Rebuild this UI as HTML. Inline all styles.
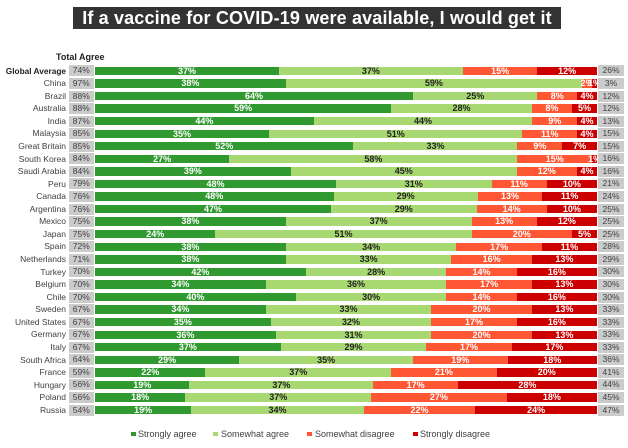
<!DOCTYPE html>
<html><head><meta charset="utf-8">
<style>
*{margin:0;padding:0;box-sizing:border-box}
body{width:628px;height:448px;background:#fff;position:relative;overflow:hidden;font-family:"Liberation Sans",Arial,sans-serif;color:#404040}
.title{position:absolute;left:73px;top:7px;width:488px;height:22px;background:#333;color:#fff;font-weight:bold;font-size:18px;line-height:22px;text-align:center;letter-spacing:0.15px;white-space:nowrap}
.ta{position:absolute;left:56px;top:51.4px;font-size:9px;line-height:12px;font-weight:bold;color:#222;white-space:nowrap}
.rows{position:absolute;left:0;top:64.615px;width:628px}
.r{position:relative;height:12.57px;width:628px}
.l{position:absolute;left:0;width:66px;top:0;height:12.57px;line-height:13.6px;font-size:8.5px;text-align:right;white-space:nowrap;color:#404040}
.l.bd{font-weight:bold;color:#222;font-size:8.3px}
.t,.n{position:absolute;top:0.8px;height:11px;width:24.5px;background:#cbcbcb;font-size:8.5px;line-height:11px;text-align:center;color:#404040;white-space:nowrap}
.t{left:69px}
.n{left:598px;width:26px}
.b{position:absolute;left:95px;top:2.085px;width:502px;height:8.4px;display:flex}
.b i{font-style:normal;flex-basis:0;min-width:0;display:flex;justify-content:center;align-items:center;font-size:9px;font-weight:bold;line-height:8.4px;white-space:nowrap;overflow:visible;color:#fff}
.a{background:#30992f}
.s{background:#a8d872;color:#222 !important}
.d{background:#ff5733}
.x{background:#cc0000}
.lg{position:absolute;top:427.9px;font-size:9px;line-height:12px;color:#404040;white-space:nowrap}
.sq{position:absolute;top:431.7px;width:4.5px;height:4.5px}
</style></head><body>
<div class="title">If a vaccine for COVID-19 were available, I would get it</div>
<div class="ta">Total Agree</div>
<div class="rows">
<div class="r"><span class="l bd">Global Average</span><span class="t">74%</span><div class="b"><i class="a" style="flex-grow:37">37%</i><i class="s" style="flex-grow:37">37%</i><i class="d" style="flex-grow:15">15%</i><i class="x" style="flex-grow:12">12%</i></div><span class="n">26%</span></div>
<div class="r"><span class="l">China</span><span class="t">97%</span><div class="b"><i class="a" style="flex-grow:38">38%</i><i class="s" style="flex-grow:59">59%</i><i class="d" style="flex-grow:2">2%</i><i class="x" style="flex-grow:1">1%</i></div><span class="n">3%</span></div>
<div class="r"><span class="l">Brazil</span><span class="t">88%</span><div class="b"><i class="a" style="flex-grow:64">64%</i><i class="s" style="flex-grow:25">25%</i><i class="d" style="flex-grow:8">8%</i><i class="x" style="flex-grow:4">4%</i></div><span class="n">12%</span></div>
<div class="r"><span class="l">Australia</span><span class="t">88%</span><div class="b"><i class="a" style="flex-grow:59">59%</i><i class="s" style="flex-grow:28">28%</i><i class="d" style="flex-grow:8">8%</i><i class="x" style="flex-grow:5">5%</i></div><span class="n">12%</span></div>
<div class="r"><span class="l">India</span><span class="t">87%</span><div class="b"><i class="a" style="flex-grow:44">44%</i><i class="s" style="flex-grow:44">44%</i><i class="d" style="flex-grow:9">9%</i><i class="x" style="flex-grow:4">4%</i></div><span class="n">13%</span></div>
<div class="r"><span class="l">Malaysia</span><span class="t">85%</span><div class="b"><i class="a" style="flex-grow:35">35%</i><i class="s" style="flex-grow:51">51%</i><i class="d" style="flex-grow:11">11%</i><i class="x" style="flex-grow:4">4%</i></div><span class="n">15%</span></div>
<div class="r"><span class="l">Great Britain</span><span class="t">85%</span><div class="b"><i class="a" style="flex-grow:52">52%</i><i class="s" style="flex-grow:33">33%</i><i class="d" style="flex-grow:9">9%</i><i class="x" style="flex-grow:7">7%</i></div><span class="n">15%</span></div>
<div class="r"><span class="l">South Korea</span><span class="t">84%</span><div class="b"><i class="a" style="flex-grow:27">27%</i><i class="s" style="flex-grow:58">58%</i><i class="d" style="flex-grow:15">15%</i><i class="x" style="flex-grow:1">1%</i></div><span class="n">16%</span></div>
<div class="r"><span class="l">Saudi Arabia</span><span class="t">84%</span><div class="b"><i class="a" style="flex-grow:39">39%</i><i class="s" style="flex-grow:45">45%</i><i class="d" style="flex-grow:12">12%</i><i class="x" style="flex-grow:4">4%</i></div><span class="n">16%</span></div>
<div class="r"><span class="l">Peru</span><span class="t">79%</span><div class="b"><i class="a" style="flex-grow:48">48%</i><i class="s" style="flex-grow:31">31%</i><i class="d" style="flex-grow:11">11%</i><i class="x" style="flex-grow:10">10%</i></div><span class="n">21%</span></div>
<div class="r"><span class="l">Canada</span><span class="t">76%</span><div class="b"><i class="a" style="flex-grow:48">48%</i><i class="s" style="flex-grow:29">29%</i><i class="d" style="flex-grow:13">13%</i><i class="x" style="flex-grow:11">11%</i></div><span class="n">24%</span></div>
<div class="r"><span class="l">Argentina</span><span class="t">76%</span><div class="b"><i class="a" style="flex-grow:47">47%</i><i class="s" style="flex-grow:29">29%</i><i class="d" style="flex-grow:14">14%</i><i class="x" style="flex-grow:10">10%</i></div><span class="n">25%</span></div>
<div class="r"><span class="l">Mexico</span><span class="t">75%</span><div class="b"><i class="a" style="flex-grow:38">38%</i><i class="s" style="flex-grow:37">37%</i><i class="d" style="flex-grow:13">13%</i><i class="x" style="flex-grow:12">12%</i></div><span class="n">25%</span></div>
<div class="r"><span class="l">Japan</span><span class="t">75%</span><div class="b"><i class="a" style="flex-grow:24">24%</i><i class="s" style="flex-grow:51">51%</i><i class="d" style="flex-grow:20">20%</i><i class="x" style="flex-grow:5">5%</i></div><span class="n">25%</span></div>
<div class="r"><span class="l">Spain</span><span class="t">72%</span><div class="b"><i class="a" style="flex-grow:38">38%</i><i class="s" style="flex-grow:34">34%</i><i class="d" style="flex-grow:17">17%</i><i class="x" style="flex-grow:11">11%</i></div><span class="n">28%</span></div>
<div class="r"><span class="l">Netherlands</span><span class="t">71%</span><div class="b"><i class="a" style="flex-grow:38">38%</i><i class="s" style="flex-grow:33">33%</i><i class="d" style="flex-grow:16">16%</i><i class="x" style="flex-grow:13">13%</i></div><span class="n">29%</span></div>
<div class="r"><span class="l">Turkey</span><span class="t">70%</span><div class="b"><i class="a" style="flex-grow:42">42%</i><i class="s" style="flex-grow:28">28%</i><i class="d" style="flex-grow:14">14%</i><i class="x" style="flex-grow:16">16%</i></div><span class="n">30%</span></div>
<div class="r"><span class="l">Belgium</span><span class="t">70%</span><div class="b"><i class="a" style="flex-grow:34">34%</i><i class="s" style="flex-grow:36">36%</i><i class="d" style="flex-grow:17">17%</i><i class="x" style="flex-grow:13">13%</i></div><span class="n">30%</span></div>
<div class="r"><span class="l">Chile</span><span class="t">70%</span><div class="b"><i class="a" style="flex-grow:40">40%</i><i class="s" style="flex-grow:30">30%</i><i class="d" style="flex-grow:14">14%</i><i class="x" style="flex-grow:16">16%</i></div><span class="n">30%</span></div>
<div class="r"><span class="l">Sweden</span><span class="t">67%</span><div class="b"><i class="a" style="flex-grow:34">34%</i><i class="s" style="flex-grow:33">33%</i><i class="d" style="flex-grow:20">20%</i><i class="x" style="flex-grow:13">13%</i></div><span class="n">33%</span></div>
<div class="r"><span class="l">United States</span><span class="t">67%</span><div class="b"><i class="a" style="flex-grow:35">35%</i><i class="s" style="flex-grow:32">32%</i><i class="d" style="flex-grow:17">17%</i><i class="x" style="flex-grow:16">16%</i></div><span class="n">33%</span></div>
<div class="r"><span class="l">Germany</span><span class="t">67%</span><div class="b"><i class="a" style="flex-grow:36">36%</i><i class="s" style="flex-grow:31">31%</i><i class="d" style="flex-grow:20">20%</i><i class="x" style="flex-grow:13">13%</i></div><span class="n">33%</span></div>
<div class="r"><span class="l">Italy</span><span class="t">67%</span><div class="b"><i class="a" style="flex-grow:37">37%</i><i class="s" style="flex-grow:29">29%</i><i class="d" style="flex-grow:17">17%</i><i class="x" style="flex-grow:17">17%</i></div><span class="n">33%</span></div>
<div class="r"><span class="l">South Africa</span><span class="t">64%</span><div class="b"><i class="a" style="flex-grow:29">29%</i><i class="s" style="flex-grow:35">35%</i><i class="d" style="flex-grow:19">19%</i><i class="x" style="flex-grow:18">18%</i></div><span class="n">36%</span></div>
<div class="r"><span class="l">France</span><span class="t">59%</span><div class="b"><i class="a" style="flex-grow:22">22%</i><i class="s" style="flex-grow:37">37%</i><i class="d" style="flex-grow:21">21%</i><i class="x" style="flex-grow:20">20%</i></div><span class="n">41%</span></div>
<div class="r"><span class="l">Hungary</span><span class="t">56%</span><div class="b"><i class="a" style="flex-grow:19">19%</i><i class="s" style="flex-grow:37">37%</i><i class="d" style="flex-grow:17">17%</i><i class="x" style="flex-grow:28">28%</i></div><span class="n">44%</span></div>
<div class="r"><span class="l">Poland</span><span class="t">56%</span><div class="b"><i class="a" style="flex-grow:18">18%</i><i class="s" style="flex-grow:37">37%</i><i class="d" style="flex-grow:27">27%</i><i class="x" style="flex-grow:18">18%</i></div><span class="n">45%</span></div>
<div class="r"><span class="l">Russia</span><span class="t">54%</span><div class="b"><i class="a" style="flex-grow:19">19%</i><i class="s" style="flex-grow:34">34%</i><i class="d" style="flex-grow:22">22%</i><i class="x" style="flex-grow:24">24%</i></div><span class="n">47%</span></div>
</div>
<div class="sq" style="left:131px;background:#30992f"></div><div class="lg" style="left:138px">Strongly agree</div>
<div class="sq" style="left:213px;background:#a8d872"></div><div class="lg" style="left:221px">Somewhat agree</div>
<div class="sq" style="left:307px;background:#ff5733"></div><div class="lg" style="left:315px">Somewhat disagree</div>
<div class="sq" style="left:413px;background:#cc0000"></div><div class="lg" style="left:420px">Strongly disagree</div>
</body></html>
